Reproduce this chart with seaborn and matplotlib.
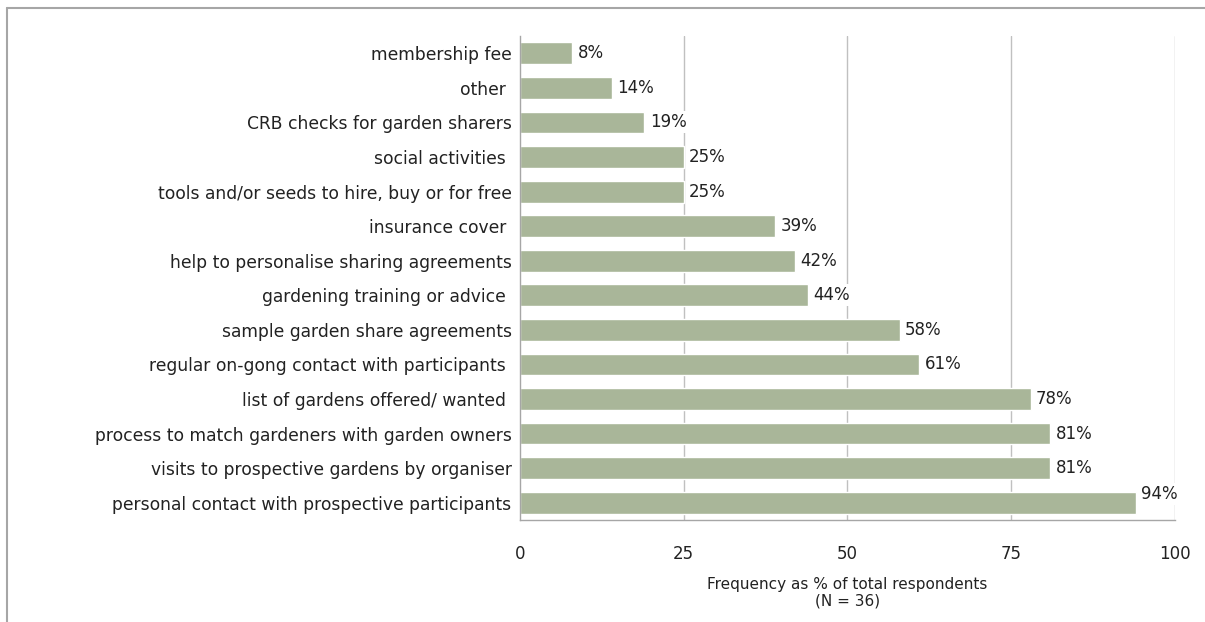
import matplotlib
matplotlib.use("Agg")
import matplotlib.pyplot as plt
import seaborn as sns
import pandas as pd
from matplotlib.lines import Line2D

categories = [
    "membership fee",
    "other ",
    "CRB checks for garden sharers",
    "social activities ",
    "tools and/or seeds to hire, buy or for free",
    "insurance cover ",
    "help to personalise sharing agreements",
    "gardening training or advice ",
    "sample garden share agreements",
    "regular on-gong contact with participants ",
    "list of gardens offered/ wanted ",
    "process to match gardeners with garden owners",
    "visits to prospective gardens by organiser",
    "personal contact with prospective participants",
]
values = [8, 14, 19, 25, 25, 39, 42, 44, 58, 61, 78, 81, 81, 94]
xticks = [0, 25, 50, 75, 100]
xlabel = "Frequency as % of total respondents\n(N = 36)"

df = pd.DataFrame({"cat": categories, "val": values})

sns.set_theme(style="white")
plt.rcParams["font.family"] = ["DejaVu Sans"]

fig = plt.figure(figsize=(12.05, 6.22), dpi=100)
ax = fig.add_axes([0.4315, 0.164, 0.5435, 0.778])

sns.barplot(data=df, y="cat", x="val", order=categories, orient="h",
            color="#A9B699", saturation=1, width=0.63, ax=ax, zorder=2)

ax.set_xlim(0, 100)
ax.set_xticks(xticks)
ax.set_xticklabels([str(t) for t in xticks], fontsize=12, color="#222222")
ax.tick_params(axis="x", length=0, pad=18)
ax.tick_params(axis="y", length=0, pad=6, labelsize=12.3, labelcolor="#222222")
ax.set_ylabel("")
ax.set_xlabel(xlabel, fontsize=11, color="#222222", labelpad=10, linespacing=1.15)

for x in xticks[1:]:
    ax.axvline(x, color="#C0C0C0", lw=1, zorder=0)

for s in ["top", "right"]:
    ax.spines[s].set_visible(False)
for s in ["left", "bottom"]:
    ax.spines[s].set_color("#A6A6A6")
    ax.spines[s].set_linewidth(1)

for i, v in enumerate(values):
    dy = -0.25 if v > 90 else 0
    ax.text(v + 0.8, i + dy, f"{v}%", va="center", ha="left", fontsize=12,
            color="#222222", zorder=3,
            bbox=dict(facecolor="white", edgecolor="none", pad=1.5))

# outer frame (top and left edges)
fig.add_artist(Line2D([0.006, 1.0], [0.987, 0.987], transform=fig.transFigure,
                      color="#A6A6A6", lw=1.5))
fig.add_artist(Line2D([0.006, 0.006], [0.0, 0.987], transform=fig.transFigure,
                      color="#A6A6A6", lw=1.5))

fig.savefig("out.png", dpi=100)
